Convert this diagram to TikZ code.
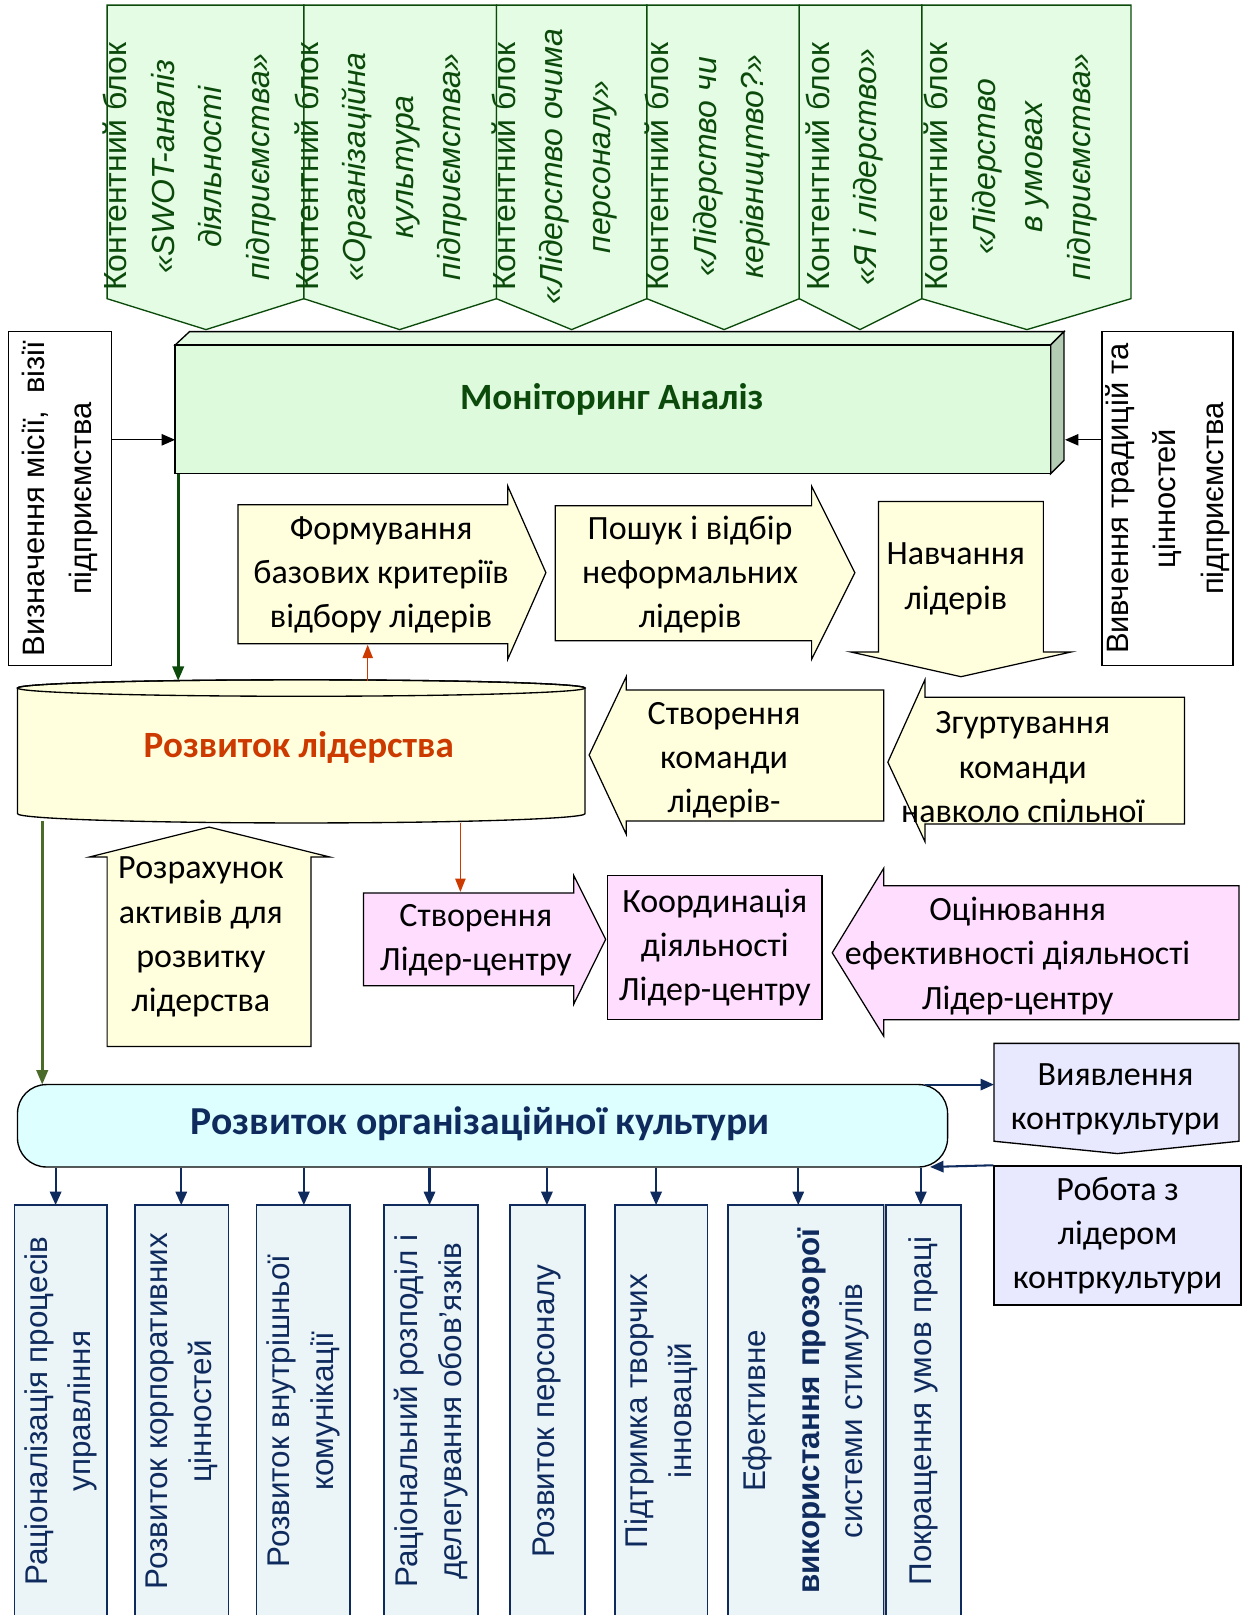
\documentclass[tikz,border=0pt]{standalone}
\usepackage{fontspec}
\setmainfont{Carlito}
\newfontfamily\arf{Liberation Sans}
\usetikzlibrary{arrows.meta}
\definecolor{gfill}{HTML}{E3FCE3}
\definecolor{gdark}{HTML}{0B4A0B}
\definecolor{monfill}{HTML}{DDFADD}
\definecolor{montop}{HTML}{E2FBE2}
\definecolor{monside}{HTML}{B4CCB4}
\definecolor{yfill}{HTML}{FFFFDE}
\definecolor{pfill}{HTML}{FFDDFF}
\definecolor{cfill}{HTML}{DDFFFF}
\definecolor{lfill}{HTML}{E8E8FF}
\definecolor{bfill}{HTML}{EBF5F8}
\definecolor{redc}{HTML}{CC3A00}
\definecolor{navy}{HTML}{0F2B5E}
\definecolor{olive}{HTML}{4A6B2A}
\begin{document}
\begin{tikzpicture}[x=1pt,y=-1pt,
  cblock/.style={draw=gdark, line width=1.3pt, fill=gfill},
  ctext/.style={rotate=90, align=center, text=gdark, font=\arf\fontsize{31}{46}\selectfont, inner sep=0pt},
  ybox/.style={draw=black, line width=1.2pt, fill=yfill},
  pbox/.style={draw=black, line width=1.2pt, fill=pfill},
  lab/.style={align=center, font=\fontsize{33}{43}\selectfont, inner sep=0pt},
  sidebox/.style={draw=black, line width=1.3pt, fill=white, rotate=90, align=center, font=\arf\fontsize{30}{46}\selectfont, inner sep=0pt},
  vbox/.style={draw=navy, line width=1.4pt, fill=bfill, rotate=90, align=center, text=navy, font=\arf\fontsize{30.5}{42}\selectfont, inner sep=0pt, minimum width=400},
  blk/.style={-{Triangle[length=13pt,width=11pt]}, line width=1.3pt, black},
  grn/.style={-{Triangle[length=14pt,width=11pt]}, line width=2.6pt, gdark},
  olv/.style={-{Triangle[length=14pt,width=11pt]}, line width=2.6pt, olive},
  redar/.style={-{Triangle[length=13pt,width=10pt]}, line width=1.5pt, redc},
  nav/.style={-{Triangle[length=13pt,width=11pt]}, line width=2pt, navy},
]
\clip (0,0) rectangle (1207,1568);
\fill[white] (0,0) rectangle (1207,1568);

% ---- content blocks
\draw[cblock] (104,5) -- (295,5) -- (295,290) -- (200,320) -- (104,290) -- cycle;
\draw[cblock] (295,5) -- (482,5) -- (482,290) -- (388,320) -- (295,290) -- cycle;
\draw[cblock] (482,5) -- (628,5) -- (628,290) -- (555,320) -- (482,290) -- cycle;
\draw[cblock] (628,5) -- (776,5) -- (776,290) -- (703,320) -- (628,290) -- cycle;
\draw[cblock] (776,5) -- (895,5) -- (895,290) -- (835,320) -- (776,290) -- cycle;
\draw[cblock] (895,5) -- (1098,5) -- (1098,290) -- (997,320) -- (895,290) -- cycle;
\node[ctext] (c1) at (184,162) {Контентний блок\\\textit{«SWOT-аналіз}\\\textit{діяльності}\\\textit{підприємства»}};
\node[ctext] (c2) at (370,162) {Контентний блок\\\textit{«Організаційна}\\\textit{культура}\\\textit{підприємства»}};
\node[ctext] (c3) at (538,162) {Контентний блок\\\textit{«Лідерство очима}\\\textit{персоналу»}};
\node[ctext] (c4) at (687,162) {Контентний блок\\\textit{«Лідерство чи}\\\textit{керівництво?»}};
\node[ctext] (c5) at (820,162) {Контентний блок\\\textit{«Я і лідерство»}};
\node[ctext] (c6) at (981,162) {Контентний блок\\\textit{«Лідерство}\\\textit{в умовах}\\\textit{підприємства»}};

% ---- monitoring box
\draw[line width=1.3pt, fill=montop] (170,335) -- (184,322) -- (1033,322) -- (1020,335) -- cycle;
\draw[line width=1.3pt, fill=monside] (1020,335) -- (1033,322) -- (1033,447) -- (1020,460) -- cycle;
\node[draw=black, line width=1.3pt, fill=monfill, minimum width=850, minimum height=125, inner sep=0pt] (mon) at (595,397.5) {};
\node[font=\bfseries\fontsize{36}{40}\selectfont, text=gdark, inner sep=0pt] (monlab) at (594,388) {Моніторинг Аналіз};
\coordinate (monL) at (170,427);
\coordinate (monR) at (1034,427);
\coordinate (monB) at (173,460);

% ---- side boxes
\node[sidebox, minimum width=324, minimum height=100] (viz) at (58,484) {Визначення місії,\ \ візії\\підприємства};
\node[sidebox, minimum width=324, minimum height=127] (viv) at (1133.5,484) {Вивчення традицій та\\цінностей\\підприємства};
\draw[blk] (viz.south |- monL) -- (monL);
\draw[blk] (viv.north |- monR) -- (monR);

% ---- row 1 arrows
\draw[ybox] (231,490) -- (493,490) -- (493,472) -- (530,556) -- (493,640) -- (493,625) -- (231,625) -- cycle;
\node[lab] (form) at (370,558) {Формування\\базових критеріїв\\відбору лідерів};
\draw[ybox] (539,491) -- (788,491) -- (788,472) -- (830,556) -- (788,640) -- (788,622) -- (539,622) -- cycle;
\node[lab] (posh) at (670,558) {Пошук і відбір\\неформальних\\лідерів};
\draw[ybox] (853,487) -- (1013,487) -- (1013,633) -- (1040,633) -- (933,657) -- (826,633) -- (853,633) -- cycle;
\node[lab] (navch) at (928,562) {Навчання\\лідерів};
\coordinate (formB) at (357,626);

% ---- cylinder
\draw[line width=1.3pt, fill=yfill] (17,668) -- (17,790) arc[start angle=180, end angle=0, x radius=275.5, y radius=9] -- (568,668) arc[start angle=0, end angle=-180, x radius=275.5, y radius=8] -- cycle;
\draw[line width=1.3pt] (292.5,668) ellipse[x radius=275.5, y radius=8];
\node[font=\bfseries\fontsize{36}{40}\selectfont, text=redc, inner sep=0pt] (cyl) at (290,726) {Розвиток лідерства};
\coordinate (cylT1) at (173,661);
\coordinate (cylT2) at (357,661);
\coordinate (cylB1) at (41,797);
\coordinate (cylB2) at (447,799);
\draw[grn] (monB) -- (cylT1);
\draw[redar] (cylT2) -- (formB);

% ---- row 2 arrows
\draw[ybox] (858,670) -- (858,797) -- (608,797) -- (608,810) -- (572,733) -- (608,657) -- (608,670) -- cycle;
\node[lab] (stvk) at (703,738) {Створення\\команди\\лідерів-};
\draw[ybox] (1150,677) -- (1150,800) -- (898,800) -- (898,817) -- (862,740) -- (898,660) -- (898,677) -- cycle;
\node[lab] (zgur) at (993,745) {Згуртування\\команди\\навколо спільної};

% ---- Розрахунок
\draw[ybox] (104,1016) -- (104,832) -- (87,832) -- (203,803) -- (320,832) -- (302,832) -- (302,1016) -- cycle;
\node[lab] (rozr) at (195,910) {Розрахунок\\активів для\\розвитку\\лідерства};

% ---- pink row
\draw[pbox] (353,867) -- (557,867) -- (557,850) -- (588,912) -- (557,975) -- (557,957) -- (353,957) -- cycle;
\node[lab] (stvl) at (462,913) {Створення\\Лідер-центру};
\node[pbox, minimum width=208, minimum height=140, inner sep=0pt, lab] (koord) at (694,920) {Координація\\діяльності\\Лідер-центру};
\draw[pbox] (1203,860) -- (1203,990) -- (858,990) -- (858,1006) -- (808,925) -- (858,843) -- (858,860) -- cycle;
\node[lab] (ocin) at (988,928) {Оцінювання\\ефективності діяльності\\Лідер-центру};
\coordinate (stvlT) at (447,866);
\draw[redar] (cylB2) -- (stvlT);

% ---- organisational culture
\node[draw=black, line width=1.3pt, fill=cfill, rounded corners=28pt, minimum width=903, minimum height=80, inner sep=0pt] (org) at (468.5,1093) {};
\node[text=navy, font=\bfseries\fontsize{38.5}{42}\selectfont, inner sep=0pt] (orglab) at (466,1091) {Розвиток організаційної культури};
\coordinate (orgT) at (41,1053);
\draw[olv] (cylB1) -- (orgT);

\draw[line width=1.3pt, fill=lfill] (965,1013) -- (1203,1013) -- (1203,1108) -- (1085,1120) -- (965,1108) -- cycle;
\node[lab] (vyav) at (1083,1067) {Виявлення\\контркультури};
\node[draw=black, line width=1.3pt, fill=lfill, minimum width=240, minimum height=135, inner sep=0pt, lab] (rob) at (1085,1199.5) {Робота з\\лідером\\контркультури};
\coordinate (orgTR) at (898,1053);
\coordinate (vyavL) at (965,1053);
\coordinate (orgBR) at (903,1133);
\draw[nav] (orgTR) -- (vyavL);
\draw[nav] (rob.north west) -- (orgBR);

% ---- bottom boxes
\node[vbox, minimum height=90] (b1) at (59,1370) {Раціоналізація процесів\\управління};
\node[vbox, minimum height=91] (b2) at (176.5,1370) {Розвиток корпоративних\\цінностей};
\node[vbox, minimum height=91] (b3) at (294.5,1370) {Розвиток внутрішньої\\комунікації};
\node[vbox, minimum height=91] (b4) at (418.5,1370) {Раціональний розподіл і\\делегування обов’язків};
\node[vbox, minimum height=73] (b5) at (531.5,1370) {Розвиток персоналу};
\node[vbox, minimum height=90] (b6) at (642,1370) {Підтримка творчих\\інновацій};
\node[vbox, minimum height=151] (b7) at (782.5,1370) {Ефективне\\[10pt]\textbf{використання прозорої}\\системи стимулів};
\node[vbox, minimum height=73] (b8) at (896.5,1370) {Покращення умов праці};
\draw[gray!60, line width=1pt] (b7.south west) ++(0,0) -- (b7.south east);
\coordinate (t1) at (54,1170);
\coordinate (t2) at (176,1170);
\coordinate (t3) at (295,1170);
\coordinate (t4) at (417,1170);
\coordinate (t5) at (531,1170);
\coordinate (t6) at (637,1170);
\coordinate (t7) at (775,1170);
\coordinate (t8) at (894,1170);
\foreach \t in {t1,t2,t3,t4,t5,t6,t7,t8} { \draw[nav] (org.south -| \t) -- (\t); }
\end{tikzpicture}
\end{document}
